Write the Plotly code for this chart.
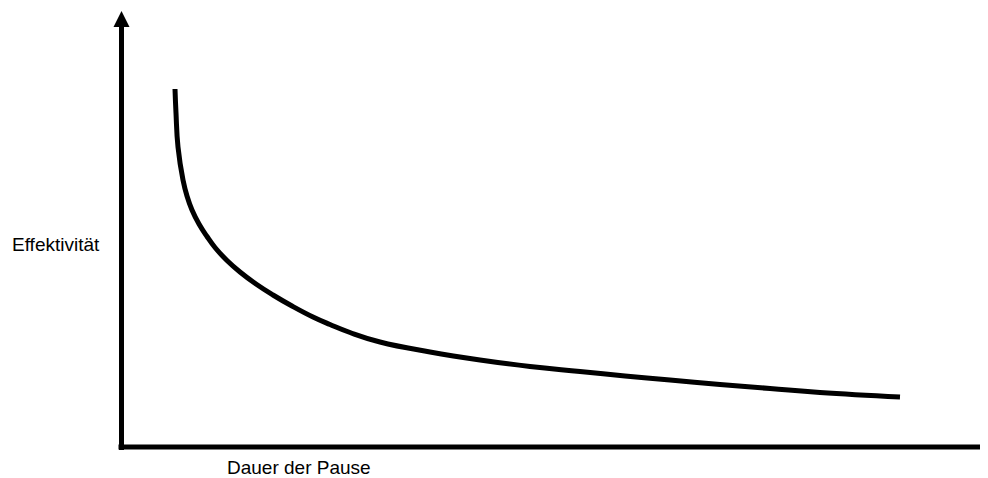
import plotly.graph_objects as go

# Curve values (Dauer der Pause vs. Effektivität), arbitrary units
dauer = [53.5, 54.5, 56.5, 61.5, 65.5, 70.5, 77.5, 85.5, 93.5, 105.5, 118.5, 134.5, 151.5, 170.5,
         191.5, 208.5, 228.5, 258.5, 308.5, 358.5, 408.5, 458.5, 503.5, 548.5, 598.5, 648.5, 698.5, 778.5]
effekt = [358, 334, 300, 267, 251, 237, 223, 210.5, 199.5, 186.5, 175, 163, 152, 141,
          130, 122.5, 114.5, 105, 95, 87, 80.5, 75.5, 71, 67, 62.5, 58.5, 54.5, 50]

x_label = "Dauer der Pause"
y_label = "Effektivität"

FONT = "Liberation Sans, Arial, sans-serif"

# The page body adds an 8px offset; ranges compensate so 1 data unit = 1 px
OFF = 8
fig = go.Figure()
fig.add_trace(go.Scatter(
    x=dauer, y=effekt, mode="lines",
    line=dict(color="black", width=5, shape="spline", smoothing=1.3),
    hoverinfo="skip", showlegend=False,
))

# Axes with arrow heads
fig.add_shape(type="line", x0=0, y0=-3, x1=0, y1=421, line=dict(color="black", width=5))
fig.add_shape(type="line", x0=-3, y0=0, x1=864, y1=0, line=dict(color="black", width=5))
fig.add_shape(type="path", path="M -8,420 L 0,436 L 8,420 Z",
              fillcolor="black", line=dict(color="black", width=0))
fig.add_shape(type="path", path="M 863,-8 L 879,0 L 863,8 Z",
              fillcolor="black", line=dict(color="black", width=0))

fig.add_annotation(x=-111.5, y=203, text=y_label, showarrow=False, xanchor="left", yanchor="middle",
                   font=dict(family=FONT, size=19, color="black"))
fig.add_annotation(x=103, y=-20, text=x_label, showarrow=False, xanchor="left", yanchor="middle",
                   font=dict(family=FONT, size=19, color="black"))

fig.update_layout(
    width=988, height=478,
    margin=dict(l=0, r=0, t=0, b=0),
    paper_bgcolor="white", plot_bgcolor="white",
    xaxis=dict(range=[-121.5 + OFF, 866.5 + OFF], visible=False, fixedrange=True),
    yaxis=dict(range=[-31 - OFF, 447 - OFF], visible=False, fixedrange=True),
)

fig.write_html("out.html", config={"displayModeBar": False})
